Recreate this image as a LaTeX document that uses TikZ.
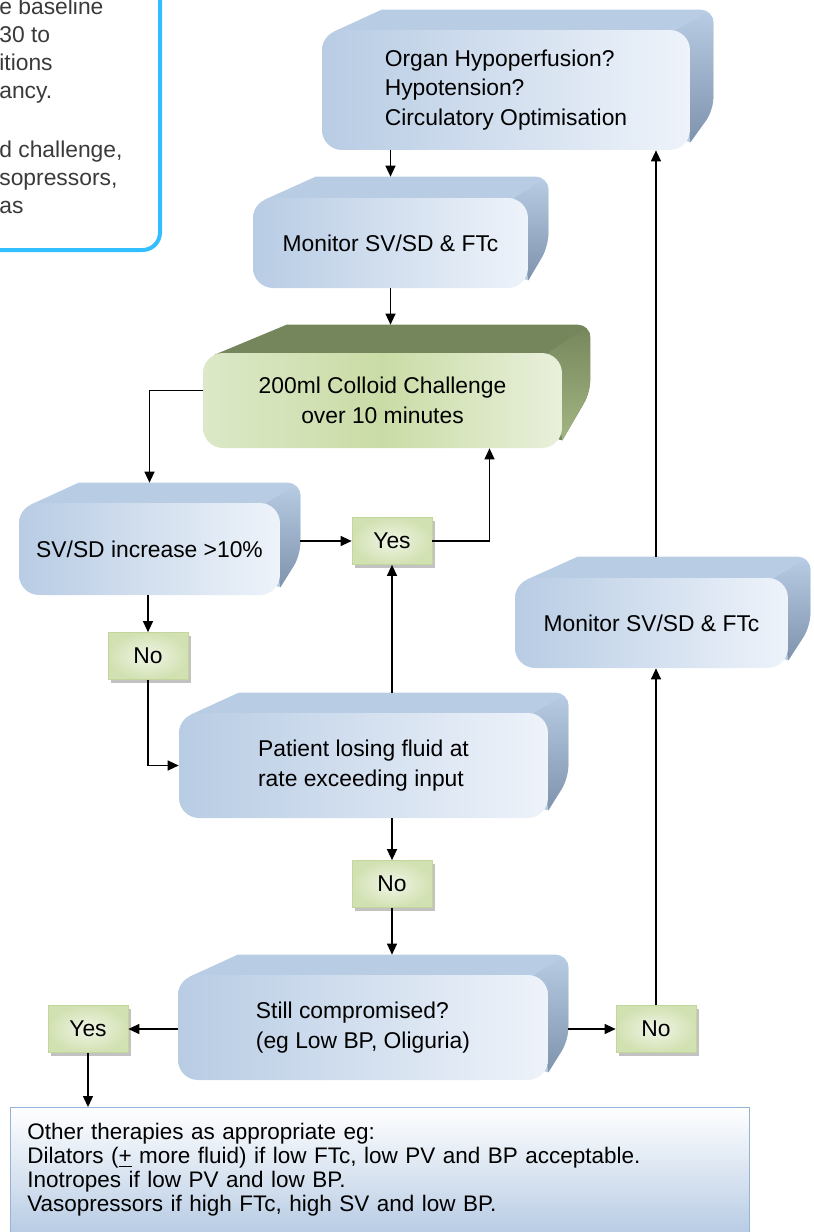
\documentclass[tikz,border=0pt]{standalone}
\usepackage{fontspec}
\setmainfont{Liberation Sans}
\usetikzlibrary{arrows.meta, positioning, calc, backgrounds, shadows}
\definecolor{slab-blue}{HTML}{B8CCE4}
\definecolor{slab-pale}{HTML}{EEF3FA}
\definecolor{slab-side}{HTML}{8093AD}
\definecolor{olive-top}{HTML}{76865C}
\definecolor{olive-side}{HTML}{A2B682}
\definecolor{olive-left}{HTML}{DCE8C8}
\definecolor{olive-mid}{HTML}{CADCA6}
\definecolor{olive-right}{HTML}{E9F0DB}
\definecolor{tag-green}{HTML}{D2E1B2}
\definecolor{tag-pale}{HTML}{F0F5E6}
\definecolor{tag-edge}{HTML}{C3D69B}
\definecolor{intro-cyan}{RGB}{51,190,255}
\definecolor{intro-grey}{HTML}{3A3A3A}
\definecolor{note-edge}{HTML}{95B3D7}

% back and side of a slab: node, depth, rise, top colour, side colour
\newcommand{\slabback}[5]{%
  \begin{scope}[on background layer]
    \fill[#4] ($(#1.north west)+(12,2)$) -- ($(#1.north west)+(3*#3,-#3)$)
      [rounded corners=0.25cm] -- ($(#1.north east)+(#2,-#3)$) -- ($(#1.south east)+(#2,-2*#3)$)
      [sharp corners] -- ($(#1.south east)+(0,-8)$) -- cycle;
    \shade[top color=#4, bottom color=#5] ($(#1.north east)+(-14,0)$)
      [rounded corners=0.25cm] -- ($(#1.north east)+(#2,-#3)$) -- ($(#1.south east)+(#2,-2*#3)$)
      [sharp corners] -- ($(#1.south east)+(0,-8)$) -- cycle;
  \end{scope}
  \coordinate (#1-top) at ($(#1.north)+(0,-#3)$);}

\begin{document}
\begin{tikzpicture}[
    x=0.02cm, y=-0.02cm,
    font=\fontsize{13}{17}\selectfont,
    slab/.style={rectangle, rounded corners=0.4cm, inner sep=0pt, align=left, left color=slab-blue, right color=slab-pale},
    greenslab/.style={slab, align=center, left color=olive-left, right color=olive-right, middle color=olive-mid},
    tag/.style={rectangle, draw=tag-edge, inner sep=0pt, minimum width=1.6cm, minimum height=0.94cm, outer color=tag-green, inner color=tag-pale, drop shadow={shadow xshift=0.06cm, shadow yshift=-0.06cm, fill=black!40, opacity=0.6}},
    note/.style={rectangle, draw=note-edge, top color=white, bottom color=slab-blue, inner xsep=0.34cm, inner ysep=0.32cm, text width=14.1cm, align=left, font=\fontsize{12.8}{13.7}\selectfont},
    arr/.style={-{Triangle[length=0.22cm, width=0.2cm]}, line width=0.7pt}
]
\useasboundingbox (0,0) rectangle (814,1232);

% Intro box (cut off at the corner)
\draw[line width=0.08cm, draw=intro-cyan, rounded corners=0.35cm] (-60,-60) rectangle (160,250);
\node[anchor=north west, inner sep=0pt, align=left, text=intro-grey, font=\fontsize{13}{15.9}\selectfont] (intro) at (-1,-2.5) {e baseline\\30 to\\itions\\ancy.\\[18pt]d challenge,\\sopressors,\\as};

% Main column
\node[slab, minimum width=7.36cm, minimum height=2.4cm] (organ) at (506,90) {Organ Hypoperfusion?\\Hypotension?\\Circulatory Optimisation};
\node[slab, minimum width=5.5cm, minimum height=1.8cm] (mon1) at (390.5,243) {Monitor SV/SD \& FTc};
\node[greenslab, minimum width=7.18cm, minimum height=1.9cm] (colloid) at (382.5,400.5) {200ml Colloid Challenge\\over 10 minutes};
\node[slab, minimum width=5.22cm, minimum height=1.84cm] (svsd) at (149.5,549) {SV/SD increase >10\%};
\node[tag] (yes1) at (392,541) {Yes};
\node[tag] (no1) at (148,656) {No};
\node[slab, minimum width=7.38cm, minimum height=2.1cm] (patient) at (363.5,765.5) {Patient losing fluid at\\rate exceeding input};
\node[tag] (no2) at (392,884) {No};
\node[slab, minimum width=7.4cm, minimum height=2.1cm] (still) at (363,1027.5) {Still compromised?\\(eg Low BP, Oliguria)};
\node[tag] (yes2) at (88,1029) {Yes};
\node[tag] (no3) at (656,1029) {No};

% Right column
\node[slab, minimum width=5.46cm, minimum height=1.8cm] (mon2) at (651.5,623) {Monitor SV/SD \& FTc};

% Other therapies
\node[note, anchor=north west] (other) at (10,1107) {Other therapies as appropriate eg:\\Dilators (\underline{+} more fluid) if low FTc, low PV and BP acceptable.\\Inotropes if low PV and low BP.\\Vasopressors if high FTc, high SV and low BP.};

% depth of the slabs
\slabback{organ}{23}{20}{slab-blue}{slab-side}
\slabback{mon1}{20}{21}{slab-blue}{slab-side}
\slabback{colloid}{28}{28}{olive-top}{olive-side}
\slabback{svsd}{20}{20}{slab-blue}{slab-side}
\slabback{patient}{20}{20}{slab-blue}{slab-side}
\slabback{still}{20}{20}{slab-blue}{slab-side}
\slabback{mon2}{22}{21}{slab-blue}{slab-side}

% Connectors
\draw[arr] (mon1.north |- organ.south) -- (mon1-top);
\draw[arr] (mon1.south) -- (mon1.south |- colloid-top);
\draw[arr] ([yshift=0.2cm]colloid.west) -| (svsd-top);
\draw[arr] ([xshift=0.4cm]svsd.east |- yes1.west) -- (yes1.west);
\draw[arr] (yes1.east) -| ($(colloid.south)+(107,0)$);
\draw[arr] (yes1.south |- patient-top) -- (yes1.south);
\draw[arr] (no1.north |- svsd.south) -- (no1.north);
\draw[arr] (no1.south) |- (patient.west);
\draw[arr] (no2.north |- patient.south) -- (no2.north);
\draw[arr] (no2.south) -- (no2.south |- still-top);
\draw[arr] (still.west |- yes2.east) -- (yes2.east);
\draw[arr] ([xshift=0.4cm]still.east |- no3.west) -- (no3.west);
\draw[arr] (no3.north) -- (no3.north |- mon2.south);
\draw[arr] (no3.north |- mon2-top) -- (no3.north |- organ.south);
\draw[arr] (yes2.south) -- (yes2.south |- other.north);

\end{tikzpicture}
\end{document}
